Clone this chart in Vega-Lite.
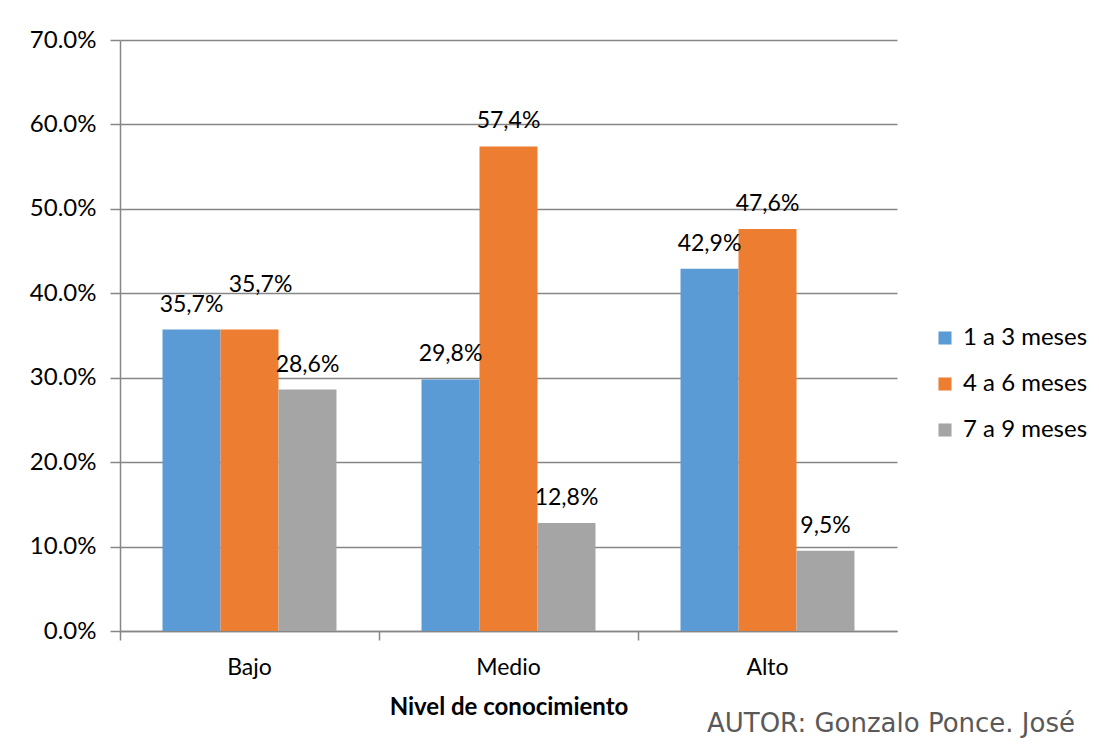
{
  "$schema": "https://vega.github.io/schema/vega-lite/v6.json",
  "width": 777,
  "height": 591,
  "autosize": {"type": "none"},
  "padding": {"left": 120, "top": 40, "right": 202, "bottom": 118},
  "background": "white",
  "data": {
    "values": [
      {"nivel": "Bajo", "grupo": "1 a 3 meses", "valor": 0.357, "label": "35,7%"},
      {"nivel": "Bajo", "grupo": "4 a 6 meses", "valor": 0.357, "label": "35,7%"},
      {"nivel": "Bajo", "grupo": "7 a 9 meses", "valor": 0.286, "label": "28,6%"},
      {"nivel": "Medio", "grupo": "1 a 3 meses", "valor": 0.298, "label": "29,8%"},
      {"nivel": "Medio", "grupo": "4 a 6 meses", "valor": 0.574, "label": "57,4%"},
      {"nivel": "Medio", "grupo": "7 a 9 meses", "valor": 0.128, "label": "12,8%"},
      {"nivel": "Alto", "grupo": "1 a 3 meses", "valor": 0.429, "label": "42,9%"},
      {"nivel": "Alto", "grupo": "4 a 6 meses", "valor": 0.476, "label": "47,6%"},
      {"nivel": "Alto", "grupo": "7 a 9 meses", "valor": 0.095, "label": "9,5%"}
    ]
  },
  "title": {
    "text": "AUTOR: Gonzalo Ponce. José",
    "orient": "bottom",
    "anchor": "end",
    "frame": "group",
    "dx": 178,
    "offset": -8,
    "font": "DejaVu Sans",
    "fontSize": 26,
    "fontWeight": "normal",
    "color": "#595959"
  },
  "encoding": {
    "x": {
      "field": "nivel",
      "type": "nominal",
      "sort": ["Bajo", "Medio", "Alto"],
      "scale": {"paddingInner": 0, "paddingOuter": 0},
      "axis": {
        "title": "Nivel de conocimiento",
        "titleFont": "Lato",
        "titleFontSize": 24,
        "titleFontWeight": "bold",
        "titleColor": "black",
        "titlePadding": 16,
        "labelAngle": 0,
        "labelFont": "Lato",
        "labelFontSize": 23,
        "labelColor": "black",
        "labelPadding": 16,
        "bandPosition": 0,
        "tickSize": 9,
        "tickColor": "#868686",
        "domainColor": "#868686",
        "tickWidth": 1.5,
        "domainWidth": 1.5
      }
    },
    "xOffset": {"field": "grupo", "type": "nominal", "scale": {"paddingInner": 0, "paddingOuter": 0.733}},
    "y": {
      "field": "valor",
      "type": "quantitative",
      "scale": {"domain": [0, 0.7]},
      "axis": {
        "title": null,
        "format": ".1%",
        "values": [0, 0.1, 0.2, 0.3, 0.4, 0.5, 0.6, 0.7],
        "labelFont": "Lato",
        "labelFontSize": 24,
        "labelColor": "black",
        "labelPadding": 14,
        "tickSize": 10,
        "tickColor": "#868686",
        "domainColor": "#868686",
        "gridColor": "#868686",
        "tickWidth": 1.5,
        "domainWidth": 1.5,
        "gridWidth": 1.5
      }
    }
  },
  "layer": [
    {
      "mark": {"type": "bar"},
      "encoding": {
        "color": {
          "field": "grupo",
          "type": "nominal",
          "scale": {"domain": ["1 a 3 meses", "4 a 6 meses", "7 a 9 meses"], "range": ["#5B9BD5", "#ED7D31", "#A5A5A5"]},
          "legend": {
            "title": null,
            "orient": "none",
            "legendX": 813,
            "legendY": 286,
            "symbolType": "square",
            "symbolSize": 170,
            "symbolStrokeWidth": 0,
            "labelFont": "Lato",
            "labelFontSize": 24,
            "labelColor": "black",
            "labelOffset": 6,
            "rowPadding": 22,
            "labelLimit": 220
          }
        }
      }
    },
    {
      "transform": [{"filter": "!(datum.nivel == 'Bajo' && datum.grupo == '4 a 6 meses')"}],
      "mark": {"type": "text", "baseline": "middle", "dy": -25, "font": "Lato", "fontSize": 23, "color": "black"},
      "encoding": {"text": {"field": "label"}}
    },
    {
      "transform": [{"filter": "datum.nivel == 'Bajo' && datum.grupo == '4 a 6 meses'"}],
      "mark": {"type": "text", "baseline": "middle", "dy": -45, "dx": 11, "font": "Lato", "fontSize": 23, "color": "black"},
      "encoding": {"text": {"field": "label"}}
    }
  ],
  "config": {"view": {"stroke": null}}
}
